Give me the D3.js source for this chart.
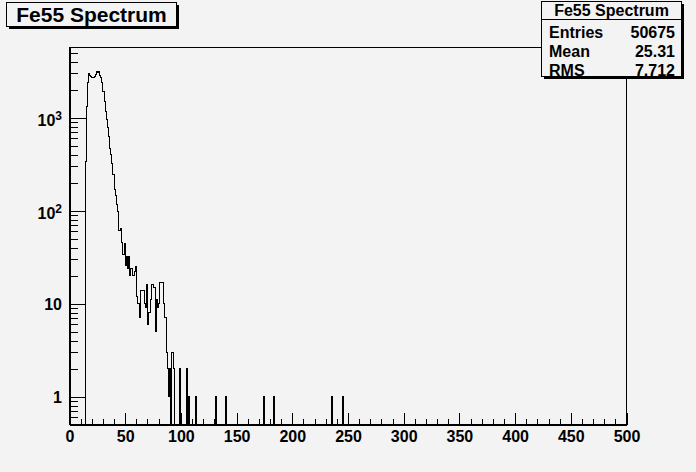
<!DOCTYPE html>
<html>
<head>
<meta charset="utf-8">
<script src="https://cdn.jsdelivr.net/npm/d3@7"></script>
<style>
  body { margin: 0; background: #f3f3f3; }
  svg { display: block; }
  text { font-family: "Liberation Sans", Arial, sans-serif; font-weight: bold; fill: #000; }
  path, line, rect { shape-rendering: crispEdges; }
</style>
</head>
<body>
<script>
// histogram: 500 bins of width 1 from 0 to 500
var nBins = 500
var firstBin = 12
// counts for bins 12 .. 93
var counts = [
  0, 0, 340, 1330, 2380, 2990, 2870, 2810, 2740, 2720,
  2760, 2900, 3120, 3070, 3150, 2870, 2700, 2380, 1930, 1510,
  1180, 960, 780, 625, 464, 403, 320, 245, 169, 146,
  117, 97, 61, 61, 64, 46, 34, 44, 26, 32,
  24, 32, 20, 24, 24, 20, 22, 25, 12, 10,
  10, 7, 14, 14, 14, 10, 9, 16, 6, 8,
  8, 11, 16, 15, 15, 5, 11, 9, 10, 17,
  17, 17, 10, 7, 7, 3, 2, 1, 2, 0,
  3, 2
]
// isolated bins in the tail
var spikeBins = [99, 105, 107, 113, 131, 140, 174, 183, 235, 245]
var spikeCounts = [2, 2, 1, 1, 1, 1, 1, 1, 1, 1]

var title = 'Fe55 Spectrum'
var statLabels = ['Entries', 'Mean', 'RMS']
var statValues = ['50675', '25.31', '7.712']

var xMajor = d3.range(0, 501, 50)
var xMinor = d3.range(0, 501, 10).filter(d => d % 50)
var yMajor = [1, 10, 100, 1000]
var yMinor = [0.6, 0.7, 0.8, 0.9, 2, 3, 4, 5, 6, 7, 8, 9, 20, 30, 40, 50, 60, 70, 80, 90,
  200, 300, 400, 500, 600, 700, 800, 900, 2000, 3000, 4000, 5000]

var width = 696
var height = 472
var frame = {left: 69.5, right: 626.5, top: 47.5, bottom: 424.5}

var x = d3.scaleLinear().domain([0, 500]).range([frame.left, frame.right])
var y = d3.scaleLog().domain([0.5, 5700]).range([frame.bottom, frame.top])

var bins = new Array(nBins).fill(0)
counts.forEach((c, i) => { bins[firstBin + i] = c })
spikeBins.forEach((b, i) => { bins[b] = spikeCounts[i] })

var svg = d3.select('body').append('svg')
  .attr('width', width)
  .attr('height', height)

svg.append('rect')
  .attr('width', width).attr('height', height)
  .attr('fill', '#f3f3f3')

// histogram outline
var pts = []
bins.forEach((c, i) => {
  var yy = c > 0 ? y(c) : frame.bottom
  pts.push([x(i), yy], [x(i + 1), yy])
})
svg.append('path')
  .attr('d', d3.line()(pts))
  .attr('fill', 'none')
  .attr('stroke', '#000')
  .attr('stroke-width', 1)

// frame
svg.append('rect')
  .attr('x', frame.left).attr('y', frame.top)
  .attr('width', frame.right - frame.left)
  .attr('height', frame.bottom - frame.top)
  .attr('fill', 'none')
  .attr('stroke', '#000')

// x axis
var gx = svg.append('g')
  .attr('transform', `translate(0, ${frame.bottom})`)
  .call(d3.axisBottom(x).tickValues(xMajor).tickSize(-11.3).tickSizeOuter(0)
    .tickPadding(6).tickFormat(d3.format('d')))
gx.selectAll('text').style('font-size', '16px').style('font-family', null)
gx.append('g')
  .call(d3.axisBottom(x).tickValues(xMinor).tickSize(-5.6).tickFormat(''))
  .select('.domain').remove()

// y axis
var gy = svg.append('g')
  .attr('transform', `translate(${frame.left}, 0)`)
  .call(d3.axisLeft(y).tickValues(yMajor).tickSize(-16.7).tickSizeOuter(0).tickFormat(''))
gy.append('g')
  .call(d3.axisLeft(y).tickValues(yMinor).tickSize(-8.4).tickFormat(''))
  .select('.domain').remove()
gy.selectAll('path, line').attr('stroke', '#000')

yMajor.forEach(v => {
  var exp = Math.round(Math.log10(v))
  var t = svg.append('text')
    .attr('x', 62)
    .attr('text-anchor', 'end')
    .style('font-size', '16px')
  if (exp < 2) {
    t.attr('y', y(v) + 6).text(String(v))
  } else {
    t.attr('y', y(v) + 8)
    t.append('tspan').text('10')
    t.append('tspan').attr('dy', -6).style('font-size', '12px').text(String(exp))
  }
})

// title box
svg.append('rect')
  .attr('x', 9).attr('y', 5).attr('width', 170).attr('height', 24)
  .attr('fill', '#000')
svg.append('rect')
  .attr('x', 6.5).attr('y', 2.5).attr('width', 170).attr('height', 24)
  .attr('fill', '#f3f3f3').attr('stroke', '#000')
svg.append('text')
  .attr('x', 91.5).attr('y', 22)
  .attr('text-anchor', 'middle')
  .style('font-size', '21px')
  .text(title)

// stats box
var sb = {x: 541.5, y: 1.5, w: 140, h: 75}
svg.append('rect')
  .attr('x', sb.x + 2).attr('y', sb.y + 2).attr('width', sb.w).attr('height', sb.h)
  .attr('fill', '#000')
svg.append('rect')
  .attr('x', sb.x).attr('y', sb.y).attr('width', sb.w).attr('height', sb.h)
  .attr('fill', '#f3f3f3').attr('stroke', '#000')
svg.append('line')
  .attr('x1', sb.x).attr('x2', sb.x + sb.w)
  .attr('y1', 19.5).attr('y2', 19.5)
  .attr('stroke', '#000')
svg.append('text')
  .attr('x', sb.x + sb.w / 2).attr('y', 16)
  .attr('text-anchor', 'middle')
  .style('font-size', '16px')
  .text(title)
statLabels.forEach((s, i) => {
  svg.append('text')
    .attr('x', 549).attr('y', 37.5 + i * 19)
    .style('font-size', '16px')
    .text(s)
  svg.append('text')
    .attr('x', 675).attr('y', 37.5 + i * 19)
    .attr('text-anchor', 'end')
    .style('font-size', '16px')
    .text(statValues[i])
})
</script>
</body>
</html>
